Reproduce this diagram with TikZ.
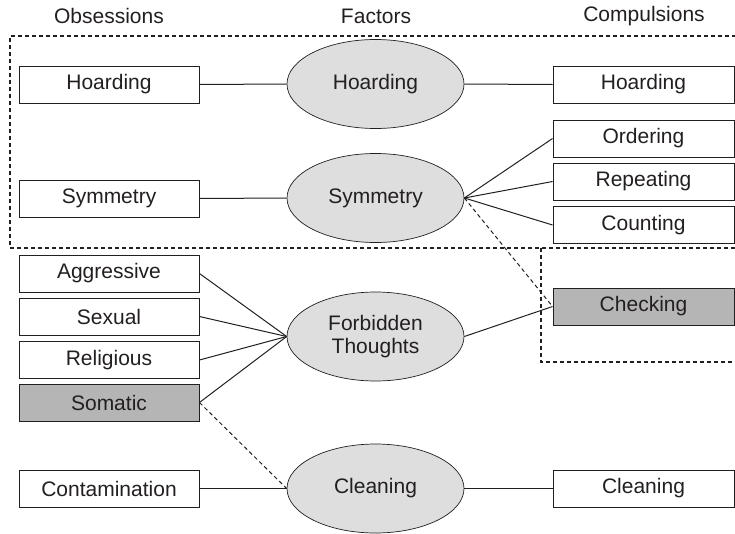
\documentclass[tikz,border=0pt]{standalone}
\usepackage{fontspec}
\setmainfont{Liberation Sans}
\usetikzlibrary{shapes.geometric}
\definecolor{ellfill}{HTML}{DEDEDE}
\definecolor{boxgray}{HTML}{B5B5B5}
\definecolor{ink}{HTML}{231F20}
\begin{document}
\begin{tikzpicture}[x=1pt,y=-1pt,
  every node/.style={font=\fontsize{21}{23}\selectfont, text=ink},
  obox/.style={draw=ink, line width=0.9pt, fill=white, minimum width=180pt, minimum height=37pt, inner sep=0pt},
  gbox/.style={obox, fill=boxgray},
  factor/.style={ellipse, draw=ink, line width=0.7pt, fill=ellfill, minimum width=177pt, minimum height=89pt, inner sep=0pt, align=center},
  link/.style={draw=ink, line width=1pt},
  dlink/.style={link, dash pattern=on 4pt off 3pt},
  region/.style={draw=ink, line width=1.2pt, dash pattern=on 4pt off 3pt}]
\useasboundingbox (0,0) rectangle (735,533);
% dashed regions
\draw[region] (735,248) -- (10,248) -- (10,36) -- (735,36);
\draw[region] (541,248) -- (541,362) -- (735,362);
% titles
\node (tobs) at (109,16) {Obsessions};
\node (tfac) at (376,16) {Factors};
\node (tcom) at (644,16) {Compulsions};
% obsessions
\node[obox] (oh) at (109,84.5) {Hoarding};
\node[obox] (os) at (109,198.5) {Symmetry};
\node[obox] (oa) at (109,273.5) {Aggressive};
\node[obox] (ox) at (109,316.5) {Sexual};
\node[obox] (or) at (109,360) {Religious};
\node[gbox] (om) at (109,402.5) {Somatic};
\node[obox] (oc) at (109,488.5) {Contamination};
% factors
\node[factor] (fh) at (375.5,84) {Hoarding};
\node[factor] (fs) at (375.5,198) {Symmetry};
\node[factor] (ff) at (375.5,336.5) {Forbidden\\Thoughts};
\node[factor] (fc) at (375.5,488.5) {Cleaning};
% compulsions
\node[obox, minimum width=181pt] (ch) at (643.5,84.5) {Hoarding};
\node[obox, minimum width=181pt] (co) at (643.5,138.5) {Ordering};
\node[obox, minimum width=181pt] (cr) at (643.5,181.5) {Repeating};
\node[obox, minimum width=181pt] (cn) at (643.5,225) {Counting};
\node[gbox, minimum width=181pt] (ck) at (643.5,306.5) {Checking};
\node[obox, minimum width=181pt] (cc) at (643.5,488.5) {Cleaning};
% connectors
\draw[link] (oh.east) -- (fh.west);
\draw[link] (fh.east) -- (ch.west);
\draw[link] (os.east) -- (fs.west);
\draw[link] (fs.east) -- (co.west);
\draw[link] (fs.east) -- (cr.west);
\draw[link] (fs.east) -- (cn.west);
\draw[dlink] (fs.east) -- (ck.west);
\draw[link] (oa.east) -- (ff.west);
\draw[link] (ox.east) -- (ff.west);
\draw[link] (or.east) -- (ff.west);
\draw[link] (om.east) -- (ff.west);
\draw[link] (ff.east) -- (ck.west);
\draw[dlink] (om.east) -- (fc.west);
\draw[link] (oc.east) -- (fc.west);
\draw[link] (fc.east) -- (cc.west);
\end{tikzpicture}
\end{document}
